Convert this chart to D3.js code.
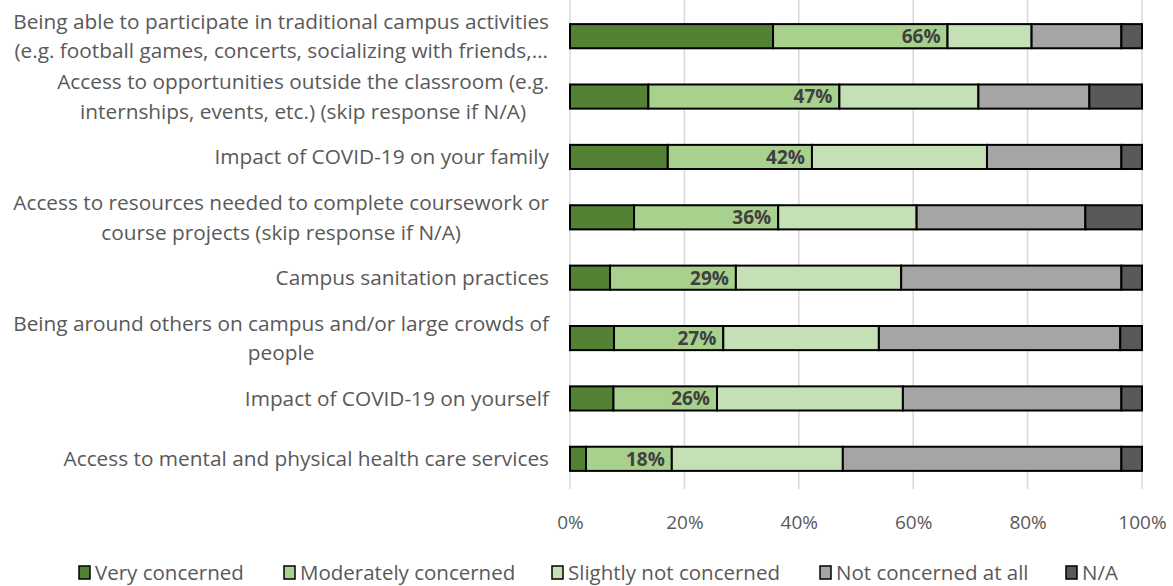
<!DOCTYPE html>
<html>
<head>
<meta charset="utf-8">
<script src="https://cdn.jsdelivr.net/npm/d3@7"></script>
<style>
  body { margin: 0; background: #fff; }
  svg text { font-family: "Open Sans", sans-serif; }
</style>
</head>
<body>
<svg id="chart" width="1173" height="586"></svg>
<script>
(function(d3) {
  'use strict';

  // one entry per bar, top to bottom; each label split into its display lines
  var categories = [
    ['Being able to participate in traditional campus activities', '(e.g. football games, concerts, socializing with friends,\u2026'],
    ['Access to opportunities outside the classroom (e.g.', 'internships, events, etc.) (skip response if N/A)'],
    ['Impact of COVID-19 on your family'],
    ['Access to resources needed to complete coursework or', 'course projects (skip response if N/A)'],
    ['Campus sanitation practices'],
    ['Being around others on campus and/or large crowds of', 'people'],
    ['Impact of COVID-19 on yourself'],
    ['Access to mental and physical health care services']
  ];

  var seriesNames = ['Very concerned', 'Moderately concerned', 'Slightly not concerned', 'Not concerned at all', 'N/A'];

  // percent of respondents, same order as categories
  var veryConcerned       = [35.5, 13.7, 17.1, 11.2, 7.0, 7.7, 7.6, 2.8];
  var moderatelyConcerned = [30.5, 33.4, 25.2, 25.2, 22.0, 19.1, 18.1, 15.0];
  var slightlyNot         = [14.7, 24.3, 30.6, 24.2, 28.9, 27.2, 32.5, 29.9];
  var notAtAll            = [15.7, 19.4, 23.5, 29.5, 38.5, 42.2, 38.2, 48.7];
  var notApplicable       = [3.6, 9.2, 3.6, 9.9, 3.6, 3.8, 3.6, 3.6];

  var tickValues = [0, 20, 40, 60, 80, 100];

  var colors = ['#548235', '#a9d18e', '#c5e0b4', '#a5a5a5', '#595959'];

  var rows = categories.map(function(lines, i) {
    return {
      key: String(i),
      lines: lines,
      s0: veryConcerned[i],
      s1: moderatelyConcerned[i],
      s2: slightlyNot[i],
      s3: notAtAll[i],
      s4: notApplicable[i]
    };
  });
  var keys = ['s0', 's1', 's2', 's3', 's4'];

  var svg = d3.select('#chart');

  var x = d3.scaleLinear().domain([0, 100]).range([570, 1142]);
  var y = d3.scaleBand()
    .domain(rows.map(function(d) { return d.key; }))
    .range([6, 489])
    .paddingInner(0.6)
    .paddingOuter(0.3);

  // gridlines
  svg.append('g')
    .selectAll('line')
    .data(tickValues)
    .enter().append('line')
    .attr('x1', function(d) { return x(d); })
    .attr('x2', function(d) { return x(d); })
    .attr('y1', 0)
    .attr('y2', 489)
    .attr('stroke', '#d9d9d9')
    .attr('stroke-width', 1.5);

  // tick labels via d3 axis
  var axis = svg.append('g')
    .attr('transform', 'translate(0,500)')
    .call(d3.axisBottom(x).tickValues(tickValues).tickSize(0).tickPadding(0)
      .tickFormat(function(d) { return d + '%'; }));
  axis.select('.domain').remove();
  axis.selectAll('text')
    .attr('dy', '0')
    .attr('y', 29)
    .attr('fill', '#595959')
    .style('font-size', '19px')
    .style('font-family', '"Open Sans", sans-serif');

  var stacked = d3.stack().keys(keys)(rows);

  var layers = svg.append('g')
    .selectAll('g')
    .data(stacked)
    .enter().append('g')
    .attr('fill', function(d, i) { return colors[i]; });

  layers.selectAll('rect')
    .data(function(d) { return d; })
    .enter().append('rect')
    .attr('x', function(d) { return x(d[0]); })
    .attr('y', function(d) { return y(d.data.key); })
    .attr('width', function(d) { return x(d[1]) - x(d[0]); })
    .attr('height', y.bandwidth())
    .attr('stroke', '#000')
    .attr('stroke-width', 2);

  // "concerned" total labels at the end of the moderately concerned segment
  svg.append('g')
    .selectAll('text')
    .data(stacked[1])
    .enter().append('text')
    .attr('x', function(d) { return x(d[1]) - 7; })
    .attr('y', function(d) { return y(d.data.key) + y.bandwidth() / 2; })
    .attr('dy', '0.36em')
    .attr('text-anchor', 'end')
    .attr('fill', '#404040')
    .style('font-size', '19px')
    .style('font-weight', 'bold')
    .text(function(d) { return Math.round(d[1]) + '%'; });

  // category labels, right aligned block, lines centred within block
  var lineH = 29.5;
  var labelRight = 549;
  var labels = svg.append('g')
    .selectAll('g')
    .data(rows)
    .enter().append('g');

  labels.each(function(d) {
    var g = d3.select(this);
    var cy = y(d.key) + y.bandwidth() / 2;
    var n = d.lines.length;
    var texts = g.selectAll('text')
      .data(d.lines)
      .enter().append('text')
      .attr('y', function(l, j) { return cy + (j - (n - 1) / 2) * lineH; })
      .attr('dy', '0.36em')
      .attr('fill', '#595959')
      .style('font-size', '20.8px')
      .text(function(l) { return l; });
    var maxW = 0;
    texts.each(function() { maxW = Math.max(maxW, this.getComputedTextLength()); });
    texts.attr('x', labelRight - maxW / 2).attr('text-anchor', 'middle');
  });

  // legend
  var legendX = [79, 284, 552, 820, 1066];
  var legend = svg.append('g')
    .selectAll('g')
    .data(seriesNames)
    .enter().append('g')
    .attr('transform', function(d, i) { return 'translate(' + legendX[i] + ',573)'; });

  legend.append('rect')
    .attr('x', 0)
    .attr('y', -7)
    .attr('width', 11)
    .attr('height', 13)
    .attr('fill', function(d, i) { return colors[i]; })
    .attr('stroke', '#000')
    .attr('stroke-width', 1.5);

  legend.append('text')
    .attr('x', 16)
    .attr('dy', '0.36em')
    .attr('fill', '#595959')
    .style('font-size', '20.5px')
    .text(function(d) { return d; });
}(d3));
</script>
</body>
</html>
